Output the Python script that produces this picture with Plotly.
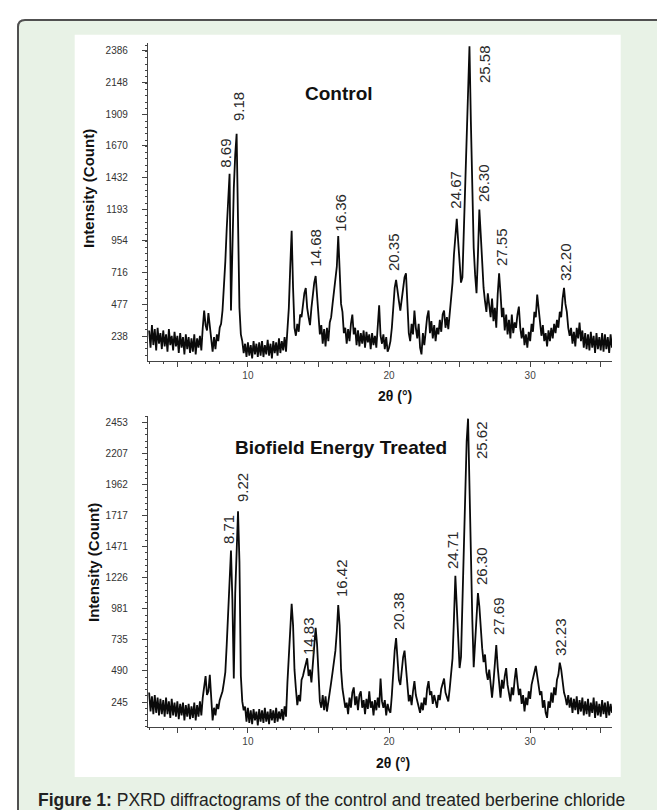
import numpy as np
import plotly.graph_objects as go

# ---------------- data ----------------
# 2-theta sampling grid (degrees), 3.0 ... 35.8 in 0.1 steps
two_theta = np.round(np.arange(3.0, 35.85, 0.1), 1)

# Control: intensity (count), one row per degree
control_counts = [
    280, 150, 320, 170, 290, 130, 300, 180, 260, 140,   # 3
    280, 160, 250, 120, 290, 170, 240, 130, 270, 160,   # 4
    240, 110, 260, 150, 230, 100, 250, 140, 230, 110,   # 5
    220, 120, 250, 100, 220, 150, 240, 130, 300, 430,   # 6
    320, 280, 410, 300, 190, 120, 230, 140, 250, 200,   # 7
    300, 330, 430, 600, 800, 1050, 1250, 1460, 430, 1050,  # 8
    1350, 1600, 1760, 1100, 450, 250, 200, 110, 180, 80,   # 9
    190, 90, 170, 70, 200, 100, 180, 80, 190, 90,       # 10
    200, 80, 170, 100, 210, 90, 180, 70, 200, 110,      # 11
    190, 90, 220, 110, 200, 130, 230, 120, 300, 450,    # 12
    760, 1030, 600, 300, 240, 330, 270, 400, 380, 500,  # 13
    560, 600, 450, 380, 320, 450, 560, 640, 690, 550,   # 14
    350, 250, 320, 180, 290, 160, 300, 200, 340, 380,   # 15
    480, 560, 680, 760, 990, 720, 480, 420, 260, 300,   # 16
    180, 290, 200, 330, 400, 250, 300, 170, 280, 160,   # 17
    260, 180, 280, 150, 270, 190, 250, 140, 260, 170,   # 18
    240, 150, 300, 470, 240, 180, 250, 140, 230, 120,   # 19
    150, 200, 300, 450, 600, 660, 560, 500, 430, 520,   # 20
    620, 680, 710, 450, 260, 200, 330, 250, 430, 300,   # 21
    220, 330, 150, 100, 260, 170, 300, 380, 430, 260,   # 22
    350, 220, 320, 200, 300, 250, 360, 270, 400, 430,   # 23
    300, 380, 290, 420, 520, 640, 850, 1000, 1120, 950,  # 24
    800, 640, 680, 1000, 1400, 1800, 2100, 2420, 1850, 1300,  # 25
    900, 700, 560, 850, 1190, 1000, 740, 600, 500, 420,  # 26
    560, 460, 380, 520, 350, 450, 300, 550, 710, 560,   # 27
    380, 450, 280, 400, 250, 360, 220, 400, 260, 340,   # 28
    300, 400, 460, 300, 220, 300, 170, 250, 150, 270,   # 29
    200, 330, 270, 420, 380, 550, 450, 380, 240, 320,   # 30
    200, 260, 160, 280, 200, 300, 220, 330, 260, 360,   # 31
    300, 420, 380, 520, 600, 480, 420, 300, 240, 300,   # 32
    180, 270, 160, 300, 220, 340, 200, 280, 150, 260,   # 33
    140, 250, 130, 270, 150, 240, 110, 260, 140, 230,   # 34
    130, 260, 120, 250, 140, 230, 110, 250, 150,        # 35
]

# Biofield Energy Treated: intensity (count)
treated_counts = [
    320, 170, 290, 150, 300, 160, 280, 140, 270, 150,   # 3
    260, 130, 280, 150, 250, 120, 270, 140, 240, 130,   # 4
    250, 110, 230, 140, 240, 100, 220, 130, 230, 110,   # 5
    210, 120, 240, 100, 220, 130, 250, 140, 280, 350,   # 6
    450, 300, 330, 460, 250, 100, 200, 140, 230, 190,   # 7
    260, 300, 330, 400, 480, 700, 1000, 1250, 1440, 1050,  # 8
    430, 1100, 1450, 1750, 1350, 450, 250, 180, 210, 90,   # 9
    200, 80, 180, 70, 190, 100, 170, 60, 190, 90,       # 10
    180, 80, 200, 90, 170, 70, 190, 100, 180, 80,       # 11
    200, 90, 170, 110, 190, 100, 210, 130, 400, 600,    # 12
    750, 1020, 850, 500, 350, 220, 300, 250, 420, 450,  # 13
    500, 550, 590, 450, 500, 400, 560, 700, 830, 700,   # 14
    450, 250, 200, 300, 180, 290, 170, 260, 330, 400,   # 15
    480, 560, 650, 800, 1010, 850, 500, 350, 260, 200,  # 16
    240, 150, 280, 200, 320, 360, 220, 290, 180, 300,   # 17
    330, 200, 260, 150, 270, 190, 330, 200, 250, 140,   # 18
    260, 180, 280, 200, 430, 250, 200, 260, 140, 230,   # 19
    180, 160, 300, 500, 650, 750, 560, 420, 380, 500,   # 20
    600, 650, 520, 350, 250, 300, 220, 330, 410, 300,   # 21
    260, 200, 160, 240, 180, 280, 220, 350, 410, 300,   # 22
    330, 230, 300, 250, 200, 300, 260, 350, 400, 430,   # 23
    320, 280, 250, 350, 450, 590, 900, 1240, 1000, 700,  # 24
    513, 600, 1000, 1500, 1900, 2300, 2480, 1900, 1350, 900,  # 25
    520, 700, 950, 1105, 1000, 800, 670, 560, 620, 480,  # 26
    420, 500, 350, 280, 400, 520, 695, 520, 380, 280,   # 27
    420, 350, 450, 513, 380, 300, 250, 360, 300, 420,   # 28
    513, 400, 300, 350, 230, 300, 170, 280, 220, 330,   # 29
    270, 380, 420, 480, 530, 450, 380, 300, 330, 200,   # 30
    260, 160, 120, 250, 200, 320, 240, 360, 300, 420,   # 31
    460, 555, 500, 400, 320, 280, 220, 300, 200, 280,   # 32
    160, 270, 180, 290, 150, 260, 170, 280, 140, 250,   # 33
    150, 270, 130, 240, 160, 280, 120, 250, 140, 230,   # 34
    130, 260, 150, 240, 120, 250, 140, 230, 160,        # 35
]

assert len(control_counts) == len(two_theta) == len(treated_counts)

control_yticks = ["238", "477", "716", "954", "1193", "1432", "1670", "1909", "2148", "2386"]
treated_yticks = ["245", "490", "735", "981", "1226", "1471", "1717", "1962", "2207", "2453"]
x_tick_labels = ["", "10", "", "20", "", "30", ""]
x_tick_values = [5, 10, 15, 20, 25, 30, 35]

control_peaks = ["8.69", "9.18", "14.68", "16.36", "20.35", "24.67", "25.58", "26.30", "27.55", "32.20"]
treated_peaks = ["8.71", "9.22", "14.83", "16.42", "20.38", "24.71", "25.62", "26.30", "27.69", "32.23"]

panel_titles = ["Control", "Biofield Energy Treated"]
x_title = "2θ (°)"
y_title = "Intensity (Count)"
caption_bold = "Figure 1:"
caption_text = "PXRD diffractograms of the control and treated berberine chloride"

# ---------------- layout helpers (pixel positions) ----------------
W, H = 665, 810
def px(x):
    return x / W
def py(y):
    return 1 - y / H

FONT = "Liberation Sans, Arial, sans-serif"
AX = "#444444"

ctrl_label_px = [(216.7, 145), (230, 99), (306.7, 240), (331.7, 205), (385, 244),
                 (446.7, 182), (477, 56), (476, 175), (493, 239), (558, 254)]
treat_label_px = [(220, 522), (234, 480), (300, 628), (333, 570), (390, 603),
                  (444, 542), (473, 432), (473, 558), (490, 608), (552, 629)]

fig = go.Figure()
fig.add_trace(go.Scatter(x=two_theta, y=control_counts, mode="lines",
                         line=dict(color="#0a0a0a", width=1.8), xaxis="x", yaxis="y",
                         showlegend=False, hoverinfo="skip"))
fig.add_trace(go.Scatter(x=two_theta, y=treated_counts, mode="lines",
                         line=dict(color="#0a0a0a", width=1.8), xaxis="x2", yaxis="y2",
                         showlegend=False, hoverinfo="skip"))

def xaxis_cfg(anchor):
    return dict(domain=[px(140), px(604)], range=[2.92, 35.8], anchor=anchor,
                showline=True, linecolor=AX, linewidth=1, showgrid=False, zeroline=False,
                ticks="outside", ticklen=5, tickcolor=AX, tickwidth=1,
                tickmode="array", tickvals=x_tick_values, ticktext=x_tick_labels,
                tickfont=dict(family=FONT, size=10, color="#444"),
                minor=dict(tickmode="linear", tick0=0, dtick=1, ticks="outside",
                           ticklen=2, tickcolor=AX, tickwidth=1))

def yaxis_cfg(anchor, dom, rng, labels):
    vals = [float(v) for v in labels]
    step = vals[0]
    return dict(domain=dom, range=rng, anchor=anchor,
                showline=True, linecolor=AX, linewidth=1.3, showgrid=False, zeroline=False,
                ticks="outside", ticklen=5, tickcolor=AX, tickwidth=1,
                tickmode="array", tickvals=vals, ticktext=labels,
                ticklabelstandoff=12,
                tickfont=dict(family=FONT, size=10, color="#333"),
                minor=dict(tickmode="linear", tick0=0, dtick=step / 5, ticks="outside",
                           ticklen=2, tickcolor=AX, tickwidth=1))

annotations = []
def ann(text, x, y, size, bold=False, angle=0, color="#111", xanchor="center"):
    annotations.append(dict(text=("<b>%s</b>" % text) if bold else text,
                            x=px(x), y=py(y), xref="paper", yref="paper",
                            showarrow=False, textangle=angle, xanchor=xanchor,
                            yanchor="middle", font=dict(family=FONT, size=size, color=color)))

for lab, (lx, ly) in zip(control_peaks, ctrl_label_px):
    ann(lab, lx, ly, 15, angle=-90, color="#2a2a2a")
for lab, (lx, ly) in zip(treated_peaks, treat_label_px):
    ann(lab, lx, ly, 15, angle=-90, color="#2a2a2a")

ann(panel_titles[0], 331, 85, 19, bold=True)
ann(panel_titles[1], 333, 439, 19, bold=True)
ann(y_title, 81, 181, 15, bold=True, angle=-90)
ann(y_title, 85, 555, 15, bold=True, angle=-90)
ann(x_title, 387, 388, 14, bold=True)
ann(x_title, 385, 755, 14, bold=True)
annotations.append(dict(text="<b>%s</b> %s" % (caption_bold, caption_text),
                        x=px(28), y=py(792), xref="paper", yref="paper", showarrow=False,
                        xanchor="left", yanchor="middle",
                        font=dict(family=FONT, size=17.5, color="#222")))

# outer rounded green box and white panel
x0, yt = px(10), py(12)
rx, ry = 7 / W, 7 / H
green_path = (f"M {x0},{-0.05} L {x0},{yt - ry} Q {x0},{yt} {x0 + rx},{yt} "
              f"L 1.05,{yt} L 1.05,-0.05 Z")
shapes = [
    dict(type="path", path=green_path, xref="paper", yref="paper",
         fillcolor="#e8f2e6", line=dict(color="#505050", width=2), layer="below"),
    dict(type="rect", x0=px(66.7), x1=px(612.7), y0=py(769), y1=py(26.7),
         xref="paper", yref="paper", fillcolor="#ffffff", line=dict(width=0), layer="below"),
]

fig.update_layout(
    width=W, height=H, autosize=False,
    margin=dict(l=0, r=0, t=0, b=0),
    paper_bgcolor="#ffffff", plot_bgcolor="rgba(0,0,0,0)",
    xaxis=xaxis_cfg("y"),
    yaxis=yaxis_cfg("x", [py(353), py(35)], [50, 2444], control_yticks),
    xaxis2=xaxis_cfg("y2"),
    yaxis2=yaxis_cfg("x2", [py(719), py(408)], [48, 2501], treated_yticks),
    annotations=annotations,
    shapes=shapes,
    showlegend=False,
)

fig.write_html("out.html")
